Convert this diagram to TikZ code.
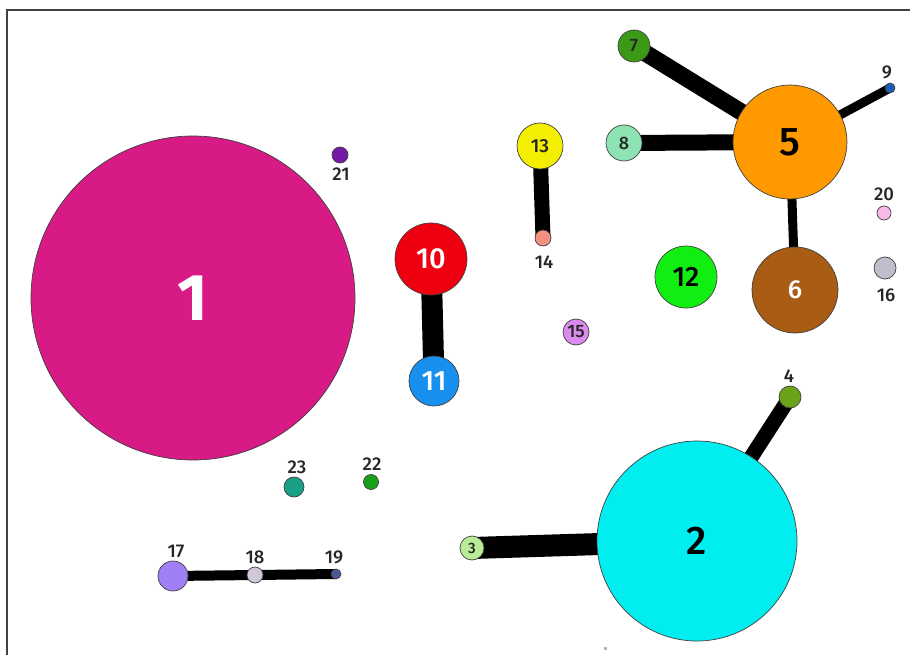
\documentclass[tikz,border=0pt]{standalone}
\usepackage{fontspec}
\setmainfont{Fira Sans}[FontFace={mb}{n}{Font=Fira Sans Medium}]
\newcommand{\medw}{\fontseries{mb}\selectfont}
\begin{document}
\begin{tikzpicture}[x=1pt,y=-1pt,
  vtx/.style={circle,draw=black!75,line width=0.7pt,inner sep=0pt},
  lbl/.style={font=\fontsize{18.5}{18.5}\selectfont\medw,text=black!85,inner sep=0pt},
  edg/.style={line width=#1,draw=black},
]
\useasboundingbox (0,0) rectangle (910,655);
\fill[white] (0,0) rectangle (910,655);
\draw[black!75,line width=1.5pt] (7,655) -- (7,10) -- (910,10);
\fill[black!30] (604,647) rectangle (607,650);
% colours
\definecolor{c1}{HTML}{D81A87}
\definecolor{c2}{HTML}{00EEF0}
\definecolor{c3}{HTML}{B8EC98}
\definecolor{c4}{HTML}{6AA318}
\definecolor{c5}{HTML}{FF9900}
\definecolor{c6}{HTML}{A95C13}
\definecolor{c7}{HTML}{3A9A16}
\definecolor{c8}{HTML}{8EE3B4}
\definecolor{c9}{HTML}{1A5DB0}
\definecolor{c10}{HTML}{EE0010}
\definecolor{c11}{HTML}{1890F0}
\definecolor{c12}{HTML}{11EE11}
\definecolor{c13}{HTML}{F4EE00}
\definecolor{c14}{HTML}{F49080}
\definecolor{c15}{HTML}{DB8AEE}
\definecolor{c16}{HTML}{BFBFCC}
\definecolor{c17}{HTML}{A07EF4}
\definecolor{c18}{HTML}{D0C8D8}
\definecolor{c19}{HTML}{4A5898}
\definecolor{c20}{HTML}{F8B8E8}
\definecolor{c21}{HTML}{7418A8}
\definecolor{c22}{HTML}{19A019}
\definecolor{c23}{HTML}{18A085}
% coordinates for node centres
\coordinate (p1) at (193,298);
\coordinate (p2) at (697,541);
\coordinate (p3) at (472,548);
\coordinate (p4) at (790,397);
\coordinate (p5) at (790,142);
\coordinate (p6) at (795,290);
\coordinate (p7) at (634,46);
\coordinate (p8) at (624,143);
\coordinate (p9) at (890,88);
\coordinate (p10) at (431,259);
\coordinate (p11) at (434,381);
\coordinate (p13) at (540,146);
\coordinate (p14) at (543,238);
\coordinate (p17) at (173,576);
\coordinate (p18) at (255,575);
\coordinate (p19) at (336,574);
% edges
\draw[edg=17pt] (p5) -- (p7);
\draw[edg=16pt] (p5) -- (p8);
\draw[edg=9pt] (p5) -- (p9);
\draw[edg=9pt] (p5) -- (p6);
\draw[edg=21pt] (p10) -- (p11);
\draw[edg=15pt] (p13) -- (p14);
\draw[edg=22pt] (p2) -- (p3);
\draw[edg=15pt] (p2) -- (p4);
\draw[edg=10pt] (p17) -- (p18);
\draw[edg=10pt] (p18) -- (p19);
% nodes
\node[vtx,fill=c1,minimum size=324pt,font=\fontsize{66}{66}\selectfont\bfseries,text=white] (n1) at (p1) {1};
\node[vtx,fill=c2,minimum size=200pt,font=\fontsize{40}{40}\selectfont\medw,text=black] (n2) at (p2) {2};
\node[vtx,fill=c3,minimum size=24pt,font=\fontsize{15}{15}\selectfont\medw,text=black!85] (n3) at (p3) {3};
\node[vtx,fill=c4,minimum size=22pt] (n4) at (p4) {};
\node[vtx,fill=c5,minimum size=114pt,font=\fontsize{40}{40}\selectfont\medw,text=black] (n5) at (p5) {5};
\node[vtx,fill=c6,minimum size=86pt,font=\fontsize{26}{26}\selectfont\medw,text=white] (n6) at (p6) {6};
\node[vtx,fill=c7,minimum size=32pt,font=\fontsize{18}{18}\selectfont\medw,text=black!85] (n7) at (p7) {7};
\node[vtx,fill=c8,minimum size=36pt,font=\fontsize{18}{18}\selectfont\medw,text=black!85] (n8) at (p8) {8};
\node[vtx,fill=c9,minimum size=10pt] (n9) at (p9) {};
\node[vtx,fill=c10,minimum size=72pt,font=\fontsize{29}{29}\selectfont\medw,text=white] (n10) at (p10) {10};
\node[vtx,fill=c11,minimum size=50pt,font=\fontsize{28}{28}\selectfont\medw,text=white] (n11) at (p11) {11};
\node[vtx,fill=c12,minimum size=62pt,font=\fontsize{28}{28}\selectfont\medw,text=black] (n12) at (686,277) {12};
\node[vtx,fill=c13,minimum size=46pt,font=\fontsize{19}{19}\selectfont\medw,text=black!85] (n13) at (p13) {13};
\node[vtx,fill=c14,minimum size=16pt] (n14) at (p14) {};
\node[vtx,fill=c15,minimum size=26pt,font=\fontsize{18}{18}\selectfont\medw,text=black!85] (n15) at (576,332) {15};
\node[vtx,fill=c16,minimum size=22pt] (n16) at (885,268) {};
\node[vtx,fill=c17,minimum size=30pt] (n17) at (p17) {};
\node[vtx,fill=c18,minimum size=16pt] (n18) at (p18) {};
\node[vtx,fill=c19,minimum size=10pt] (n19) at (p19) {};
\node[vtx,fill=c20,minimum size=14pt] (n20) at (884,213) {};
\node[vtx,fill=c21,minimum size=16pt] (n21) at (340,155) {};
\node[vtx,fill=c22,minimum size=15pt] (n22) at (371,482) {};
\node[vtx,fill=c23,minimum size=20pt] (n23) at (294,487) {};
% outside labels
\node[lbl] (l4) at (789,376) {4};
\node[lbl] (l9) at (887,72) {9};
\node[lbl] (l14) at (544,262) {14};
\node[lbl] (l16) at (886,295) {16};
\node[lbl] (l17) at (176,551) {17};
\node[lbl] (l18) at (255,557) {18};
\node[lbl] (l19) at (334,557) {19};
\node[lbl] (l20) at (884,194) {20};
\node[lbl] (l21) at (341,174) {21};
\node[lbl] (l22) at (372,464) {22};
\node[lbl] (l23) at (297,467) {23};
\end{tikzpicture}
\end{document}
